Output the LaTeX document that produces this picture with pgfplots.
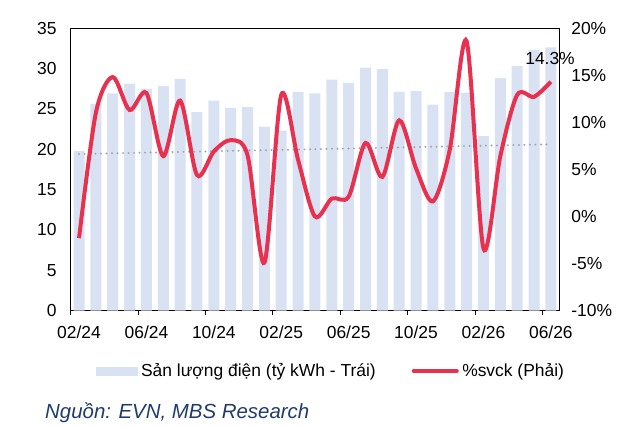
\documentclass[border=0pt]{standalone}
\usepackage{pgfplots}
\pgfplotsset{compat=1.18}
\usepackage{fontspec}
\setmainfont{Liberation Sans}
\definecolor{barcol}{HTML}{D9E2F3}
\definecolor{redcol}{HTML}{E8304F}
\definecolor{trendcol}{HTML}{A6A6A6}
\definecolor{srccol}{HTML}{1F3B6E}
\begin{document}
\fontsize{17.5}{20}\selectfont
\begin{tikzpicture}
\useasboundingbox (0,0) rectangle (621bp,427bp);
\begin{axis}[
  at={(70.6bp,116.3bp)}, anchor=south west,
  scale only axis, width=488.7bp, height=282.7bp,
  xmin=-0.5, xmax=28.5, ymin=0, ymax=35,
  ytick={0,5,...,35},
  yticklabels={0,5,10,15,20,25,30,35},
  ytick style={draw=none},
  yticklabel style={xshift=-8bp},
  xtick={0,4,...,28},
  xticklabels={02/24,06/24,10/24,02/25,06/25,10/25,02/26,06/26},
  xtick style={draw=none},
  xticklabel style={yshift=-9bp},
  extra x ticks={-0.5,3.5,...,27.5},
  extra x tick labels={},
  extra x tick style={xtick style={draw=black, line width=0.8bp}, major tick length=4bp, tick align=outside, xtick pos=left},
  axis line style={black, line width=0.8bp},
  clip=false,
]
\addplot[ybar, bar width=11bp, fill=barcol, draw=none] coordinates {
(0,19.8) (1,25.6) (2,26.9) (3,28.1) (4,27.5) (5,27.8) (6,28.7) (7,24.6)
(8,26.0) (9,25.1) (10,25.2) (11,22.8) (12,22.3) (13,27.1) (14,26.9) (15,28.6)
(16,28.2) (17,30.1) (18,29.9) (19,27.1) (20,27.2) (21,25.5) (22,27.1) (23,27.0)
(24,21.6) (25,28.8) (26,30.3) (27,32.3) (28,32.6)};
\addplot[trendcol, line width=2.2bp, line cap=round, dash pattern=on 0bp off 5.5bp] coordinates {(0,19.4) (28,20.6)};
\end{axis}
\begin{axis}[
  at={(70.6bp,116.3bp)}, anchor=south west,
  scale only axis, width=488.7bp, height=282.7bp,
  xmin=-0.5, xmax=28.5, ymin=-10, ymax=20,
  hide x axis,
  axis y line*=right,
  y axis line style={draw=none},
  ytick={-10,-5,...,20},
  yticklabels={-10\%,-5\%,0\%,5\%,10\%,15\%,20\%},
  ytick style={draw=none},
  yticklabel style={xshift=6bp},
  clip=false,
  legend columns=2,
  legend style={at={(0.052,-0.213)}, anchor=west, draw=none, fill=none,
    inner sep=0pt, nodes={inner sep=0pt, anchor=west},
    /tikz/column sep=3.5bp,
    /tikz/every even column/.append style={column sep=36bp}},
]
\addlegendimage{legend image code/.code={\fill[barcol] (0bp,-4bp) rectangle (41bp,4bp);}}
\addlegendentry{Sản lượng điện (tỷ kWh - Trái)}
\addplot[redcol, line width=4bp, smooth, tension=0.5,
  legend image code/.code={\draw[redcol, line width=4bp, line cap=round] (0bp,0bp) -- (43bp,0bp);}] coordinates {
(0,-2.3) (1,11.0) (2,14.8) (3,11.3) (4,13.1) (5,6.4) (6,12.3) (7,4.4)
(8,6.9) (9,8.1) (10,6.5) (11,-4.9) (12,12.9) (13,6.0) (14,0.0) (15,1.9)
(16,2.1) (17,7.8) (18,4.2) (19,10.2) (20,5.1) (21,1.6) (22,7.1) (23,18.6)
(24,-3.4) (25,6.4) (26,12.9) (27,12.7) (28,14.3)};
\addlegendentry{\%svck (Phải)}
\node[anchor=center, inner sep=0pt] at (axis cs:27.95,16.75) {14.3\%};
\end{axis}
\node[anchor=base west, inner sep=0pt, text=srccol, font=\fontsize{20.5}{24}\selectfont\itshape] at (45bp,9bp) {Nguồn: EVN, MBS Research};
\end{tikzpicture}
\end{document}
